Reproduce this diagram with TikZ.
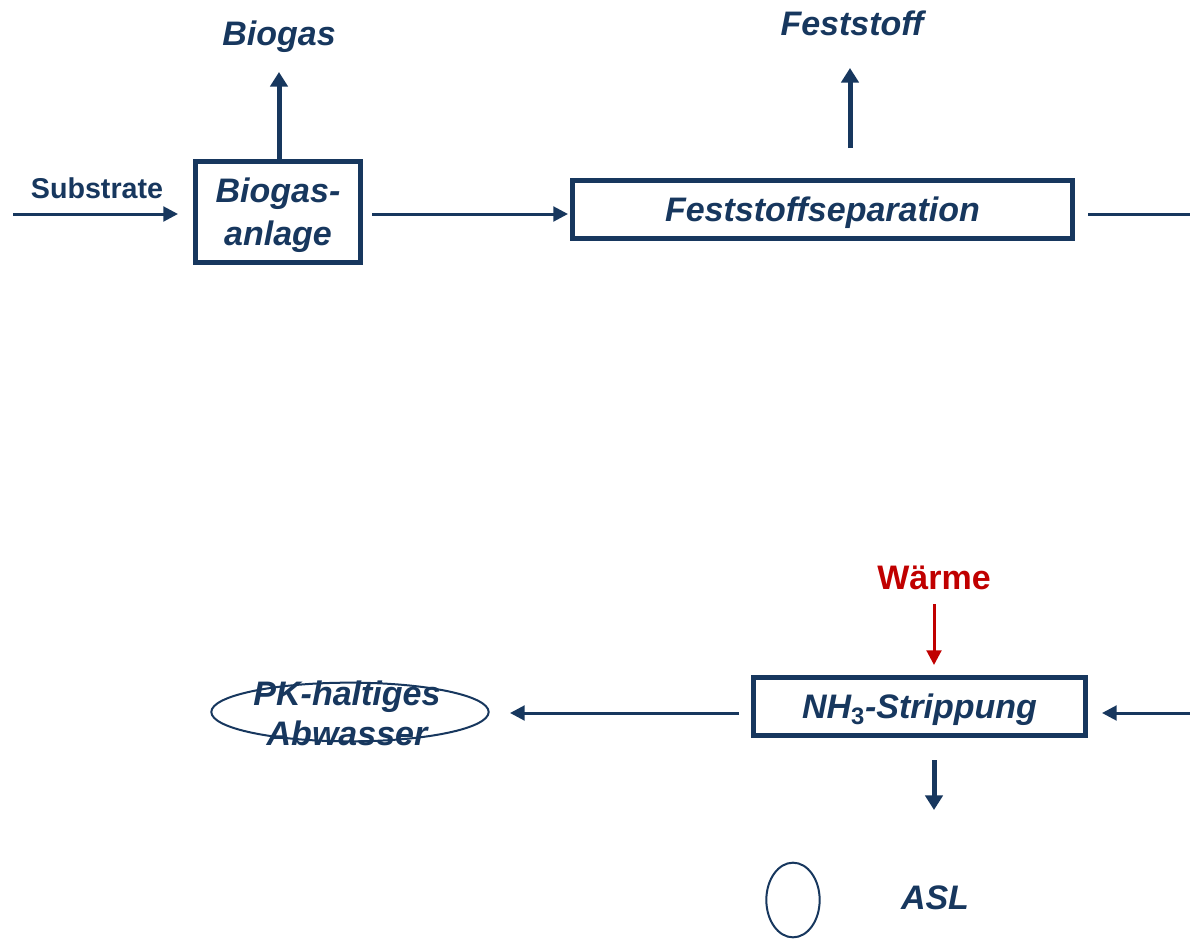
\documentclass[tikz,border=0pt]{standalone}
\usepackage{fontspec}
\setmainfont{Liberation Sans}
\usetikzlibrary{arrows.meta,shapes.geometric}
\definecolor{navy}{RGB}{23,55,94}
\definecolor{warm}{RGB}{192,0,0}
\begin{document}
\begin{tikzpicture}[x=0.75pt,y=-0.75pt,
  lbl/.style={font=\fontsize{25.5}{30}\selectfont\bfseries\itshape, text=navy, inner sep=0pt, align=center},
  procbox/.style={draw=navy, line width=3.75pt, font=\fontsize{25.5}{32}\selectfont\bfseries\itshape, text=navy, align=center, inner sep=0pt, text depth=0pt},
  thin/.style={draw=navy, line width=2.25pt, -{Triangle[length=11pt,width=11pt]}},
  thick/.style={draw=navy, line width=3.75pt, -{Triangle[length=11pt,width=13pt]}},
  plain/.style={draw=navy, line width=2.25pt}]
\useasboundingbox (0,0) rectangle (1190,939);
% nodes
\node[procbox, minimum width=123.75pt, minimum height=75.75pt] (anl) at (278,212) {Biogas-\\anlage};
\node[procbox, minimum width=375pt, minimum height=43.5pt] (sep) at (822.5,209.5) {Feststoffseparation};
\node[procbox, minimum width=249pt, minimum height=43.5pt] (nh3) at (919.5,706.5) {NH$_{\mathbf{3}}$-Strippung};
\node[lbl] (biogas) at (279,37) {Biogas};
\node[lbl] (fest) at (852,23) {Feststoff};
\node[font=\fontsize{21.5}{26}\selectfont\bfseries, text=navy, inner sep=0pt] (sub) at (97,188) {Substrate};
\node[font=\fontsize{25.5}{30}\selectfont\bfseries, text=warm, inner sep=0pt] (waerme) at (934,578) {Wärme};
\node[draw=navy, line width=1.5pt, ellipse, minimum width=208pt, minimum height=44pt, inner sep=0pt] (ell) at (350,712) {};
\node[lbl] (pk) at (347,713) {PK-haltiges\\Abwasser};
\node[draw=navy, line width=1.5pt, ellipse, minimum width=40pt, minimum height=56pt, inner sep=0pt] (asle) at (793,900) {};
\node[lbl] (asl) at (935,898) {ASL};
% coordinates
\coordinate (bgtip) at (279,72);
\coordinate (fsstart) at (850,148);
\coordinate (fstip) at (850,68);
\coordinate (substart) at (13,214);
\coordinate (subtip) at (178,214);
\coordinate (septip) at (568,214);
\coordinate (sepout) at (1088,214);
\coordinate (edge1) at (1190,214);
\coordinate (edge2) at (1190,713);
\coordinate (nh3tip) at (1102,713);
\coordinate (wstart) at (934,604);
\coordinate (wtip) at (934,665);
\coordinate (pktip) at (510,713);
\coordinate (dstart) at (934,760);
\coordinate (dtip) at (934,810);
% connectors
\draw[thick] (anl.north -| bgtip) -- (bgtip);
\draw[thick] (fsstart) -- (fstip);
\draw[thin] (substart) -- (subtip);
\draw[thin] ([xshift=7pt]anl.east |- septip) -- (septip);
\draw[plain] (sepout) -- (edge1);
\draw[thin] (edge2) -- (nh3tip);
\draw[thin, draw=warm] (wstart) -- (wtip);
\draw[thin] ([xshift=-9pt]nh3.west |- pktip) -- (pktip);
\draw[thick] (dstart) -- (dtip);
\end{tikzpicture}
\end{document}
